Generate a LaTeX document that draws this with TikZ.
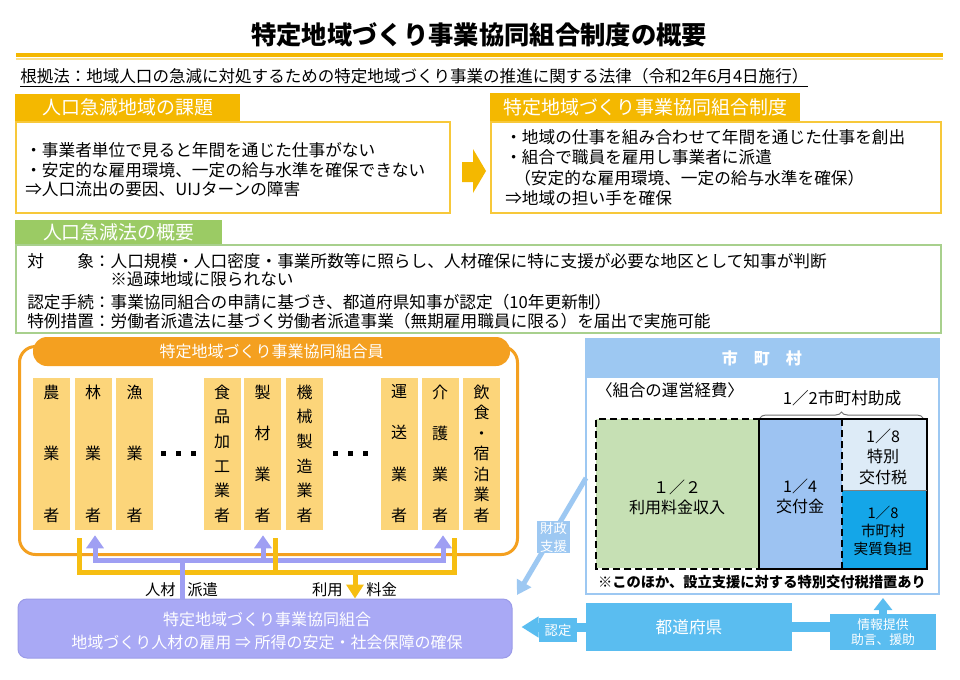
\documentclass[tikz,border=0pt]{standalone}
\usepackage{fontspec}
\setmainfont{Noto Sans CJK JP}
\usetikzlibrary{arrows.meta,decorations.pathreplacing}
\newdimen\upx \upx=0.75pt
\newcommand\fsz[2]{\fontsize{#1}{#2}\selectfont}
\newcommand\ch[1]{\hbox to 20pt{\hss\vrule height 9.5pt depth 1.5pt width 0pt #1\hss}}
\newcommand\colv[1]{\vbox to 102.5pt{#1}}
\definecolor{cGold}{HTML}{F4B800}
\definecolor{cGoldB}{HTML}{F7C83A}
\definecolor{cGreenT}{HTML}{9BCB64}
\definecolor{cGreenB}{HTML}{A8D08D}
\definecolor{cOrange}{HTML}{F4A020}
\definecolor{cCol}{HTML}{FCD57A}
\definecolor{cPurp}{HTML}{9F9FF3}
\definecolor{cCoop}{HTML}{A9A9F5}
\definecolor{cCoopB}{HTML}{9B9BE8}
\definecolor{cYel}{HTML}{F6BE12}
\definecolor{cLBlue}{HTML}{9DC8F2}
\definecolor{cSky}{HTML}{5ABDF0}
\definecolor{cLGreen}{HTML}{C6E0B4}
\definecolor{cMBlue}{HTML}{9DC3F2}
\definecolor{cPale}{HTML}{DDEBF7}
\definecolor{cDeep}{HTML}{14A6E8}
\begin{document}
\begin{tikzpicture}[x=0.75pt,y=-0.75pt,
  txt/.style={anchor=west, inner sep=0pt, font=\fsz{12.5}{15}},
  tabbox/.style={fill=#1, text=white, inner sep=0pt, anchor=north west, font=\fsz{14.2}{16}},
  framebox/.style={draw=#1, line width=1.5pt, fill=white, anchor=north west, inner sep=0pt},
  colbox/.style={fill=cCol, minimum width=27.75pt, minimum height=114pt, inner sep=0pt, font=\fsz{12}{14}},
  plain/.style={anchor=north west, inner sep=0pt},
  lbl/.style={inner sep=0pt, font=\fsz{11.5}{14}},
  ctr/.style={align=center, inner sep=0pt},
  yline/.style={draw=cYel, line width=3.75pt},
  pline/.style={draw=cPurp, line width=3.75pt},
  parr/.style={draw=cPurp, line width=3.75pt, -{Triangle[width=12.75pt,length=9.75pt]}},
  garr/.style={draw=cYel, line width=3.75pt, -{Triangle[width=12.75pt,length=10.5pt]}},
  dsh/.style={draw=black, line width=1.5pt, dash pattern=on 5.25pt off 3pt},
  skylbl/.style={fill=cSky, text=white, inner sep=0pt, align=center}
]
\useasboundingbox (0,0) rectangle (960,679);
\fill[white] (0,0) rectangle (960,679);

% title
\node[font=\fsz{19}{22}\bfseries, inner sep=0pt] (title) at (479,35) {特定地域づくり事業協同組合制度の概要};
\draw[cGold, line width=3pt] (16,55) -- (943,55);
\draw[cGold!45, line width=1.5pt] (16,58.5) -- (943,58.5);

% law
\node[txt, font=\fsz{12.4}{15}] (law) at (20,78) {\underline{根拠法：地域人口の急減に対処するための特定地域づくり事業の推進に関する法律（令和2年6月4日施行）}};

% box A
\node[tabbox=cGold, minimum width=168.75pt, minimum height=20.25pt] (tabA) at (15,94) {人口急減地域の課題};
\node[framebox=cGoldB, minimum width=325.5pt, minimum height=68.25pt] (boxA) at (15,121) {};
\node[txt] (a1) at (25,150) {・事業者単位で見ると年間を通じた仕事がない};
\node[txt] (a2) at (25,170) {・安定的な雇用環境、一定の給与水準を確保できない};
\node[txt] (a3) at (25,189) {⇒人口流出の要因、UIJターンの障害};

% arrow between
\fill[cGold] (462,162) -- (473,162) -- (473,149) -- (486,171) -- (473,193) -- (473,182) -- (462,182) -- cycle;

% box B
\node[tabbox=cGold, minimum width=232.5pt, minimum height=21pt] (tabB) at (490,93) {特定地域づくり事業協同組合制度};
\node[framebox=cGoldB, minimum width=337.5pt, minimum height=68.25pt] (boxB) at (490,121) {};
\node[txt] (b1) at (505,137) {・地域の仕事を組み合わせて年間を通じた仕事を創出};
\node[txt] (b2) at (505,157) {・組合で職員を雇用し事業者に派遣};
\node[txt] (b3) at (514,178) {（安定的な雇用環境、一定の給与水準を確保）};
\node[txt] (b4) at (505,198) {⇒地域の担い手を確保};

% box C
\node[tabbox=cGreenT, minimum width=155.25pt, minimum height=18pt] (tabC) at (15,220) {人口急減法の概要};
\node[framebox=cGreenB, minimum width=693.75pt, minimum height=66pt] (boxC) at (15,244) {};
\node[txt] (c1) at (27,261) {対　　象：人口規模・人口密度・事業所数等に照らし、人材確保に特に支援が必要な地区として知事が判断};
\node[txt] (c2) at (110,279) {※過疎地域に限られない};
\node[txt] (c3) at (27,302) {認定手続：事業協同組合の申請に基づき、都道府県知事が認定（10年更新制）};
\node[txt] (c4) at (27,321) {特例措置：労働者派遣法に基づく労働者派遣事業（無期雇用職員に限る）を届出で実施可能};

% members group
\node[draw=cOrange, line width=2.25pt, rounded corners=12pt, minimum width=373.5pt, minimum height=156pt, plain] (grp) at (18,345) {};
\node[fill=cOrange, rounded corners=10.5pt, minimum width=357.75pt, minimum height=21.75pt, text=white, font=\fsz{12}{14}, inner sep=0pt] (grphdr) at (271.5,351.5) {特定地域づくり事業協同組合員};

\node[colbox] (m1) at (51.5,454) {\colv{\ch{農}\vfill\ch{業}\vfill\ch{者}}};
\node[colbox] (m2) at (93,454) {\colv{\ch{林}\vfill\ch{業}\vfill\ch{者}}};
\node[colbox] (m3) at (134.5,454) {\colv{\ch{漁}\vfill\ch{業}\vfill\ch{者}}};
\node[colbox] (m4) at (222,454) {\colv{\ch{食}\vfill\ch{品}\vfill\ch{加}\vfill\ch{工}\vfill\ch{業}\vfill\ch{者}}};
\node[colbox] (m5) at (262.5,454) {\colv{\ch{製}\vfill\ch{材}\vfill\ch{業}\vfill\ch{者}}};
\node[colbox] (m6) at (304.5,454) {\colv{\ch{機}\vfill\ch{械}\vfill\ch{製}\vfill\ch{造}\vfill\ch{業}\vfill\ch{者}}};
\node[colbox] (m7) at (399,454) {\colv{\ch{運}\vfill\ch{送}\vfill\ch{業}\vfill\ch{者}}};
\node[colbox] (m8) at (440,454) {\colv{\ch{介}\vfill\ch{護}\vfill\ch{業}\vfill\ch{者}}};
\node[colbox] (m9) at (481.5,454) {\colv{\ch{飲}\vfill\ch{食}\vfill\ch{・}\vfill\ch{宿}\vfill\ch{泊}\vfill\ch{業}\vfill\ch{者}}};

\foreach \dx in {163,178,193,335,350,365} \fill (\dx-2.5,450.5) rectangle (\dx+2.5,455.5);

% coop box
\node[fill=cCoop, draw=cCoopB, line width=0.75pt, rounded corners=6.75pt, minimum width=370.5pt, minimum height=44.25pt, inner sep=0pt] (coop) at (265,628.5) {};
\node[ctr, text=white, font=\fsz{12}{17.25}] (coopt) at (267,631) {特定地域づくり事業協同組合\\地域づくり人材の雇用 ⇒ 所得の安定・社会保障の確保};

% connectors
\coordinate (gL) at (79,572);
\coordinate (gM) at (275,572);
\coordinate (gR) at (454,572);
\coordinate (gD) at (355,572);
\coordinate (gLt) at (79,538);
\coordinate (gMt) at (275,538);
\coordinate (gRt) at (454,538);
\coordinate (pL) at (95,560);
\coordinate (pM) at (263,560);
\coordinate (pR) at (443,560);
\coordinate (pD) at (182,560);
\draw[yline] (gLt) -- (gL) -- (gR) -- (gRt);
\draw[garr] (gD) -- (gD |- coop.north);
\draw[pline, line cap=rect] (pL) -- (pR);
\draw[pline] (pD) -- (pD |- coop.north);
\draw[parr, shorten >=3.75pt] (pL) -- (pL |- m2.south);
\draw[parr, shorten >=3.75pt] (pM) -- (pM |- m5.south);
\draw[parr, shorten >=3.75pt] (pR) -- (pR |- m8.south);
\draw[yline] (gMt) -- (gM);

\node[lbl, anchor=east] (jinzai) at (176,590) {人材};
\node[lbl, anchor=west] (haken) at (187,590) {派遣};
\node[lbl, anchor=east] (riyou) at (343,590) {利用};
\node[lbl, anchor=west] (ryokin) at (366,590) {料金};

% municipality
\node[framebox=cLBlue, minimum width=264.75pt, minimum height=191.25pt] (shi) at (585,338) {};
\node[fill=cLBlue, plain, minimum width=264.75pt, minimum height=30pt, text=white, font=\fsz{12}{14}\bfseries] (shihdr) at (585,338) {市　町　村};
\node[txt, font=\fsz{12.3}{15}] (keihi) at (596,390) {〈組合の運営経費〉};
\node[inner sep=0pt, font=\fsz{12.5}{15}] (josei) at (842,398) {1／2市町村助成};
\draw[black!55, line width=0.75pt, decorate, decoration={brace, amplitude=4.5pt}] (760,418) -- (923,418);

\node[fill=cLGreen, plain, minimum width=122.25pt, minimum height=111.75pt] (riyo) at (596,419) {};
\node[fill=cMBlue, plain, minimum width=62.25pt, minimum height=111.75pt] (kofu) at (759,419) {};
\node[fill=cPale, plain, minimum width=63pt, minimum height=53.25pt] (toku) at (842,419) {};
\node[fill=cDeep, plain, minimum width=63pt, minimum height=58.5pt] (futan) at (842,490) {};
\draw[dsh] (riyo.north east) -- (riyo.north west) -- (riyo.south west) -- (riyo.south east);
\draw[black, line width=1.5pt] (kofu.north west) rectangle (futan.south east);
\draw[black!50, line width=0.6pt] (toku.south west) -- (toku.south east);
\draw[dsh] (toku.north west) -- (futan.south west);

\node[ctr, font=\fsz{12}{15}] (riyot) at (677,497) {１／２\\利用料金収入};
\node[ctr, font=\fsz{12}{15}] (kofut) at (800,496) {1／4\\交付金};
\node[ctr, font=\fsz{12}{15.4}] (tokut) at (883,456.5) {1／8\\特別\\交付税};
\node[ctr, font=\fsz{11}{13.5}] (futant) at (883,531) {1／8\\市町村\\実質負担};
\node[inner sep=0pt, font=\fsz{10.7}{13}\bfseries] (note) at (762,582) {※このほか、設立支援に対する特別交付税措置あり};

% zaisei shien
\coordinate (zs) at (586,478);
\coordinate (ze) at (517,595);
\draw[cLBlue, line width=3.75pt, -{Triangle[width=12pt,length=10.5pt]}] (zs) -- (ze);
\node[fill=cLBlue, text=white, ctr, font=\fsz{10}{13.5}, minimum width=24.75pt, minimum height=24pt] (zaisei) at (553.5,537) {財政\\支援};

% prefecture
\node[fill=cSky, text=white, inner sep=0pt, minimum width=154.5pt, minimum height=36pt, font=\fsz{12.5}{15}] (todo) at (689,627) {都道府県};
\draw[cSky, line width=6.75pt, -{Triangle[width=15pt,length=12.75pt]}, shorten >=6.75pt] (todo.west) -- (coop.east |- todo.west);
\node[skylbl, minimum width=28.5pt, minimum height=18pt, font=\fsz{10}{12}] (nintei) at (558,630) {認定};
\node[skylbl, minimum width=79.5pt, minimum height=27pt, font=\fsz{9.6}{11.25}] (joho) at (883,632) {情報提供\\助言、援助};
\draw[cSky, line width=7.5pt] (todo.east) -- (joho.west |- todo.east);
\draw[cSky, line width=6pt, -{Triangle[width=13.5pt,length=9pt]}, shorten >=2.25pt] (joho.north) -- (joho.north |- shi.south);
\end{tikzpicture}
\end{document}
